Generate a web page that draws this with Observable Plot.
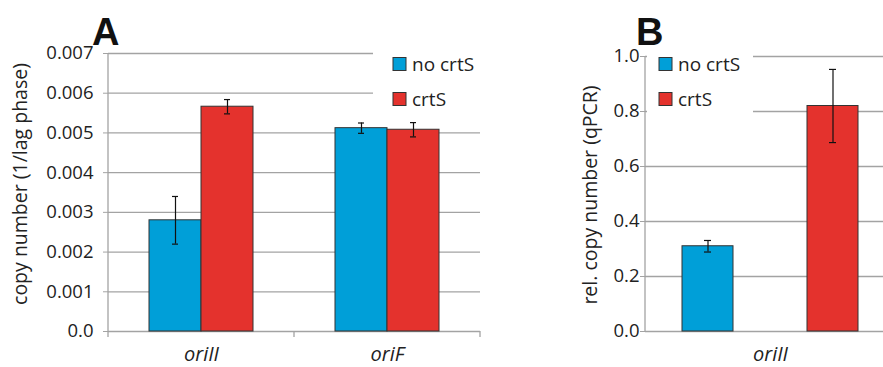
<!DOCTYPE html>
<html>
<head>
<meta charset="utf-8">
<script src="https://cdn.jsdelivr.net/npm/d3@7"></script>
<script src="https://cdn.jsdelivr.net/npm/@observablehq/plot@0.6"></script>
<style>
  html, body { margin: 0; padding: 0; background: #fff; }
  #wrap { position: relative; width: 883px; height: 367px; overflow: hidden; background: #fff; }
  #wrap svg { position: absolute; top: 0; overflow: hidden; }
</style>
</head>
<body>
<div id="wrap"></div>
<script>
// ---- Data ----
const seriesNames = ["no crtS", "crtS"];
const seriesColors = ["#009fd8", "#e4322d"];

const categoriesA = ["oriII", "oriF"];
const valuesA_noCrtS = [0.0028, 0.00512];
const valuesA_crtS = [0.00566, 0.00508];
const errA_noCrtS = [0.0006, 0.00013];
const errA_crtS = [0.00018, 0.00018];
const yTicksA = [0, 0.001, 0.002, 0.003, 0.004, 0.005, 0.006, 0.007];

const categoriesB = ["oriII"];
const valuesB_noCrtS = [0.31];
const valuesB_crtS = [0.82];
const errB_noCrtS = [0.021];
const errB_crtS = [0.133];
const yTicksB = [0, 0.2, 0.4, 0.6, 0.8, 1.0];

const labelA = "copy number (1/lag phase)";
const labelB = "rel. copy number (qPCR)";

function build(cats, v1, e1, v2, e2) {
  const rows = [];
  cats.forEach((c, i) => {
    rows.push({cat: c, series: seriesNames[0], value: v1[i], err: e1[i]});
    rows.push({cat: c, series: seriesNames[1], value: v2[i], err: e2[i]});
  });
  return rows;
}
const dataA = build(categoriesA, valuesA_noCrtS, errA_noCrtS, valuesA_crtS, errA_crtS);
const dataB = build(categoriesB, valuesB_noCrtS, errB_noCrtS, valuesB_crtS, errB_crtS);

const FONT = "'Open Sans', 'DejaVu Sans', sans-serif";
const GRID = "#a3a3a3";
const INK = "#222";

function panel({data, cats, yDomain, yTicks, fmt, width, ml, mr, mt, mb, pi, po, capInset, tickPad}) {
  return Plot.plot({
    width, height: 367,
    marginLeft: ml, marginRight: mr, marginTop: mt, marginBottom: mb,
    style: {fontFamily: FONT, fontSize: "18px", color: INK, background: "transparent"},
    fx: {domain: cats, padding: 0},
    x: {domain: seriesNames, paddingInner: pi, paddingOuter: po, axis: null},
    y: {domain: yDomain},
    color: {domain: seriesNames, range: seriesColors},
    marks: [
      Plot.ruleY(yTicks, {stroke: GRID, strokeWidth: 1.3}),
      Plot.barY(data, {fx: "cat", x: "series", y: "value", fill: "series", stroke: "#333", strokeWidth: 1}),
      Plot.ruleX(data, {fx: "cat", x: "series", y1: d => d.value - d.err, y2: d => d.value + d.err, stroke: "#111", strokeWidth: 1.2}),
      Plot.tickY(data, {fx: "cat", x: "series", y: d => d.value - d.err, insetLeft: capInset, insetRight: capInset, stroke: "#111", strokeWidth: 1.2}),
      Plot.tickY(data, {fx: "cat", x: "series", y: d => d.value + d.err, insetLeft: capInset, insetRight: capInset, stroke: "#111", strokeWidth: 1.2}),
      Plot.axisY({ticks: yTicks, tickFormat: fmt, tickSize: 5, tickPadding: tickPad, stroke: GRID, fill: INK,
                  label: null, fontSize: 18.5}),
      Plot.axisFx({anchor: "bottom", tickSize: 0, tickPadding: 15, label: null, fontSize: 20, fontStyle: "italic", fill: INK})
    ]
  });
}

const plotA = panel({
  data: dataA, cats: categoriesA, yDomain: [0, 0.007], yTicks: yTicksA,
  fmt: d => d === 0 ? "0.0" : d3.format(".3f")(d),
  width: 540, ml: 107, mr: 60, mt: 53, mb: 36, pi: 0, po: 0.76, capInset: 23, tickPad: 10
});
const plotB = panel({
  data: dataB, cats: categoriesB, yDomain: [0, 1], yTicks: yTicksB,
  fmt: d3.format(".1f"),
  width: 355, ml: 105, mr: 0, mt: 56, mb: 36, pi: 0.594, po: 0.295, capInset: 22, tickPad: 1
});

const wrap = document.getElementById("wrap");
plotA.style.left = "0px";
plotB.style.left = "540px";
wrap.appendChild(plotA);
wrap.appendChild(plotB);

// axis lines and category boundary ticks drawn from the plots' own scales
function axisLine(plot, top, bottomExtra, boundaries) {
  const fx = plot.scale("fx"), y = plot.scale("y");
  const cats = fx.domain;
  const x0 = fx.apply(cats[0]);
  const g = d3.select(plot).append("g").attr("stroke", GRID).attr("stroke-width", 1.3);
  g.append("line").attr("x1", x0).attr("x2", x0).attr("y1", y.apply(top)).attr("y2", y.apply(0) + bottomExtra);
  if (boundaries) {
    cats.forEach(c => {
      const xe = fx.apply(c) + fx.bandwidth;
      g.append("line").attr("x1", xe).attr("x2", xe).attr("y1", y.apply(0)).attr("y2", y.apply(0) + 6);
    });
  }
}
axisLine(plotA, 0.007, 6, true);
axisLine(plotB, 1.0, 0, false);

// overlay: panel letters, axis titles and legends
const ov = d3.select(wrap).append("svg").attr("width", 883).attr("height", 367)
  .style("left", "0px").style("font-family", FONT);
ov.append("text").attr("x", 92).attr("y", 45).text("A")
  .style("font-family", "'Liberation Sans', Arial, sans-serif").style("font-weight", "bold").style("font-size", "38px").attr("fill", "#111");
ov.append("text").attr("x", 636).attr("y", 45).text("B")
  .style("font-family", "'Liberation Sans', Arial, sans-serif").style("font-weight", "bold").style("font-size", "38px").attr("fill", "#111");

function yTitle(text, xb, yc) {
  ov.append("text").attr("transform", `translate(${xb},${yc}) rotate(-90)`)
    .attr("text-anchor", "middle").text(text).style("font-size", "19.5px").attr("fill", INK);
}
yTitle(labelA, 27, 184);
yTitle(labelB, 597, 195);

function legend(x0, bgX, bgW, bgH) {
  ov.append("rect").attr("x", bgX).attr("y", 45).attr("width", bgW).attr("height", bgH).attr("fill", "#fff");
  seriesNames.forEach((s, i) => {
    const yc = 64 + i * 35;
    ov.append("rect").attr("x", x0).attr("y", yc - 6.5).attr("width", 13).attr("height", 13)
      .attr("fill", seriesColors[i]).attr("stroke", "#333").attr("stroke-width", 1);
    ov.append("text").attr("x", x0 + 19).attr("y", yc).attr("dy", "0.35em").text(s)
      .style("font-size", "19px").attr("fill", INK);
  });
}
legend(393, 373, 110, 72);
legend(659, 647, 106, 78);
</script>
</body>
</html>
